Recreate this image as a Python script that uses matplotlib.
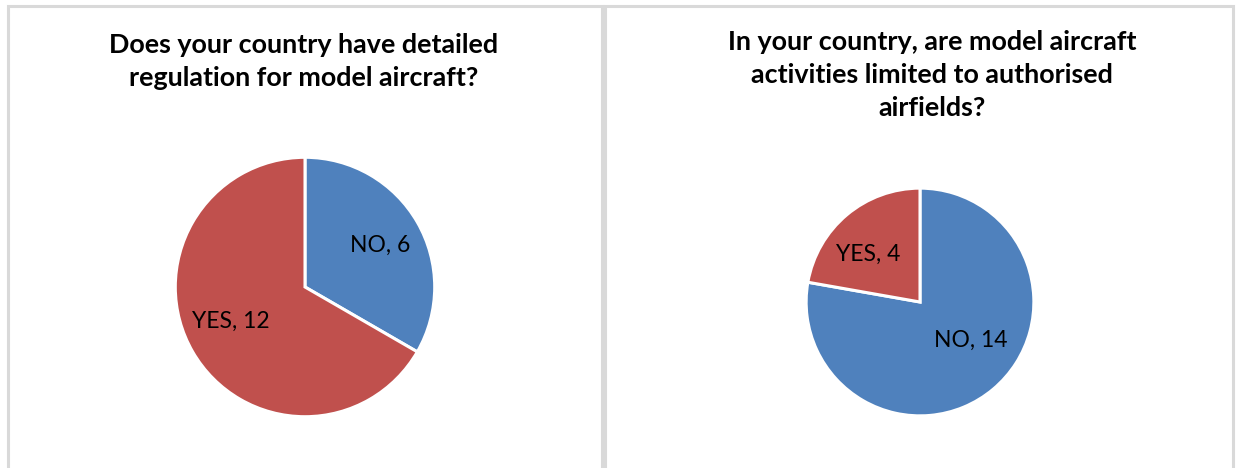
import matplotlib
matplotlib.use('Agg')
import matplotlib.pyplot as plt
from matplotlib.patches import Rectangle

# survey answers per question
answers = ['NO', 'YES']
regulation_counts = [6, 12]
airfield_counts = [14, 4]

titles = [
    'Does your country have detailed\nregulation for model aircraft?',
    'In your country, are model aircraft\nactivities limited to authorised\nairfields?',
]

BLUE = '#4F81BD'
RED = '#C0504D'
BORDER = '#D9D9D9'
FONT = 'Lato'

W, H = 1238, 468
fig = plt.figure(figsize=(W / 100, H / 100), dpi=100)


def px_box(x0, y0, x1, y1):
    # pixel box (top-left origin) -> figure fraction rect
    return [x0 / W, 1 - y1 / H, (x1 - x0) / W, (y1 - y0) / H]


# chart frames, open at the bottom
for x0, x1 in [(8, 602), (605, 1233)]:
    fig.patches.append(Rectangle((x0 / W, -0.1), (x1 - x0) / W, 1.1 - 6 / H,
                                 transform=fig.transFigure, fill=False,
                                 edgecolor=BORDER, linewidth=2.2))


def draw_pie(center, radius, counts, label_pos, title, title_xy):
    cx, cy = center
    ax = fig.add_axes(px_box(cx - radius, cy - radius, cx + radius, cy + radius))
    labels = ['%s, %d' % (a, c) for a, c in zip(answers, counts)]
    wedges, texts = ax.pie(counts, labels=labels, colors=[BLUE, RED],
                           startangle=90, counterclock=False,
                           labeldistance=0.6,
                           wedgeprops=dict(edgecolor='white', linewidth=2.2),
                           textprops=dict(fontsize=16.5, family=FONT, color='black'))
    for t, pos in zip(texts, label_pos):
        t.set_position(pos)
        t.set_ha('center')
        t.set_va('center')
    ax.set_xlim(-1.01, 1.01)
    ax.set_ylim(-1.01, 1.01)
    fig.text(title_xy[0] / W, 1 - title_xy[1] / H, title, ha='center', va='top',
             fontsize=19.4, fontweight='bold', family=FONT, linespacing=1.45)


draw_pie((305, 287), 131, regulation_counts, [(0.58, 0.32), (-0.573, -0.267)],
         titles[0], (304, 33))
draw_pie((920, 302), 115, airfield_counts, [(0.443, -0.339), (-0.452, 0.417)],
         titles[1], (932, 30))

fig.savefig('out.png', dpi=100, facecolor='white')
